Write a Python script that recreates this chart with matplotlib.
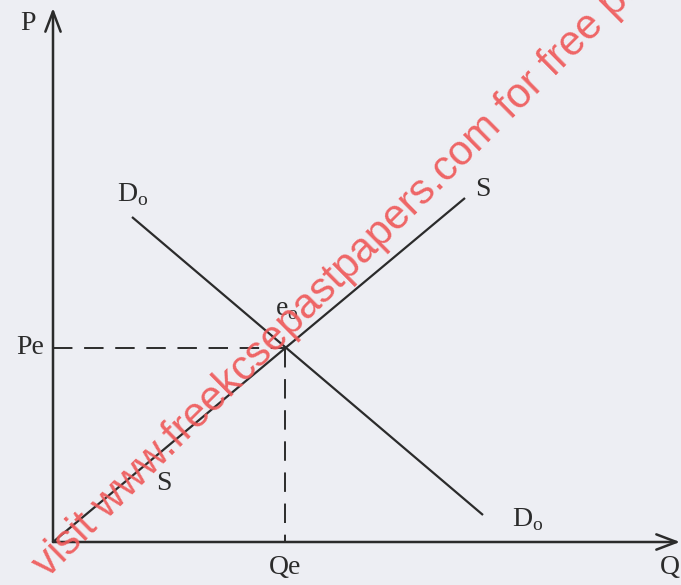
import matplotlib.pyplot as plt

# market data (quantity, price) in diagram units
supply_q = [0.0, 8.24]
supply_p = [0.0, 6.88]
demand_q = [1.58, 8.6]
demand_p = [6.5, 0.54]
qe, pe = 4.64, 3.89
q_axis_end = 12.54
p_axis_end = 10.68

INK = "#2b2b2b"
BG = "#edeef3"
WATERMARK = "visit www.freekcsepastpapers.com for free past papers"

plt.rcParams["font.family"] = ["Liberation Serif", "DejaVu Serif"]
plt.rcParams["mathtext.fontset"] = "custom"
plt.rcParams["mathtext.rm"] = "Liberation Serif"

fig = plt.figure(figsize=(6.81, 5.85), dpi=100)
fig.patch.set_facecolor(BG)
ax = fig.add_axes([0, 0, 1, 1])
ax.set_facecolor(BG)
ax.set_xlim(-1.06, 12.56)
ax.set_ylim(-0.86, 10.84)
ax.axis("off")

# axes with open arrowheads
arrow = dict(arrowstyle="->,head_length=1.45,head_width=0.55", lw=1.8,
             color=INK, shrinkA=0, shrinkB=0)
ax.annotate("", xy=(q_axis_end, 0), xytext=(0, 0), arrowprops=arrow)
ax.annotate("", xy=(0, p_axis_end), xytext=(0, 0), arrowprops=arrow)

# supply and demand curves
ax.plot(supply_q, supply_p, color=INK, lw=1.6, solid_capstyle="butt")
ax.plot(demand_q, demand_p, color=INK, lw=1.6, solid_capstyle="butt")

# equilibrium guides
ax.plot([0, qe], [pe, pe], color=INK, lw=1.4, dashes=(10, 6))
ax.plot([qe, qe], [pe, 0], color=INK, lw=1.4, dashes=(10, 6))

fs = 20
ax.text(-0.5, 10.38, "P", fontsize=fs, ha="center", va="center", color=INK)
ax.text(12.34, -0.5, "Q", fontsize=fs, ha="center", va="center", color=INK)
ax.text(-0.46, pe, "Pe", fontsize=fs, ha="center", va="center", color=INK)
ax.text(qe, -0.52, "Qe", fontsize=fs, ha="center", va="center", color=INK)
ax.text(8.6, 7.04, "S", fontsize=fs, ha="center", va="center", color=INK)
ax.text(2.22, 1.16, "S", fontsize=fs, ha="center", va="center", color=INK)
ax.text(1.6, 6.95, r"D$_\mathregular{o}$", fontsize=fs, ha="center", va="center", color=INK)
ax.text(9.5, 0.44, r"D$_\mathregular{o}$", fontsize=fs, ha="center", va="center", color=INK)
ax.text(4.68, 4.64, r"e$_\mathregular{o}$", fontsize=fs, ha="center", va="center", color=INK)

# red watermark across the scan
ax.text(-0.1, -0.74, WATERMARK, fontsize=30.2, family="Liberation Sans",
        color="#ef5a5a", alpha=0.92, rotation=44.7, rotation_mode="anchor",
        ha="left", va="baseline", zorder=10, clip_on=False)

fig.savefig("out.png", dpi=100, facecolor=BG)
